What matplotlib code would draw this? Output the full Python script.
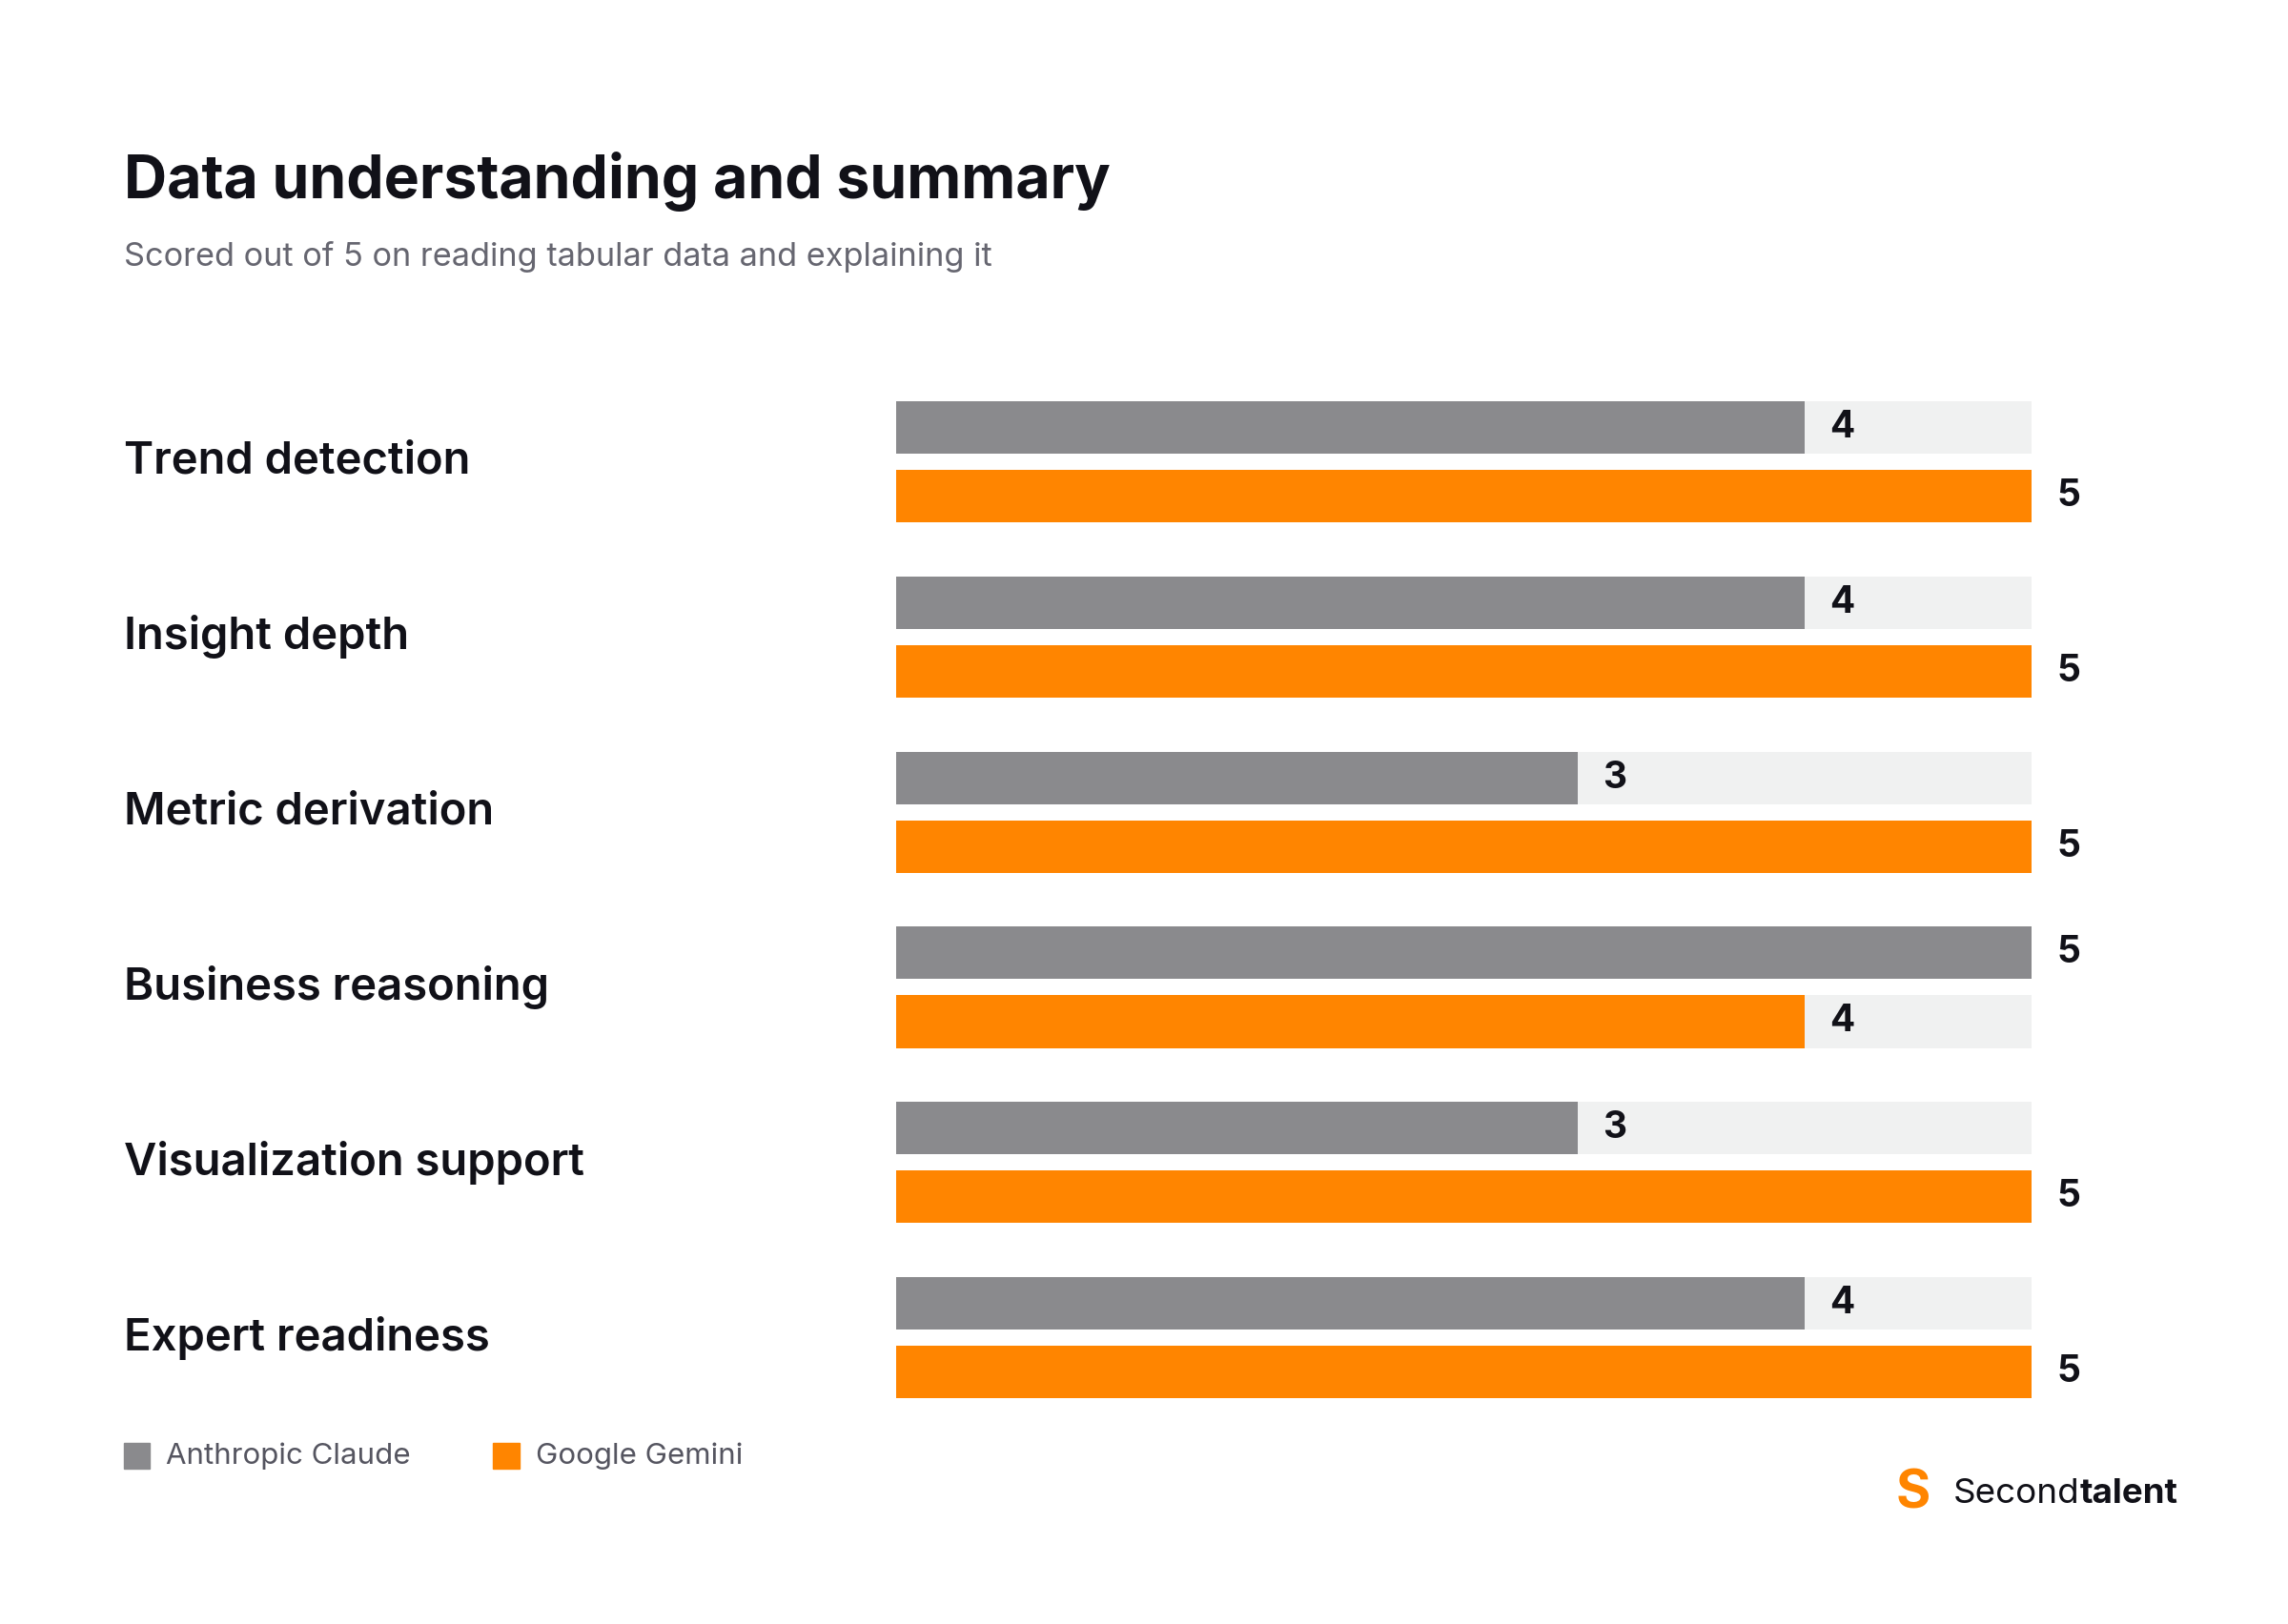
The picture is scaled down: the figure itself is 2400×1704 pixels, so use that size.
import matplotlib.pyplot as plt
import numpy as np
from matplotlib.patches import Rectangle

categories = ["Trend detection", "Insight depth", "Metric derivation",
              "Business reasoning", "Visualization support", "Expert readiness"]
claude = [4, 4, 3, 5, 3, 4]
gemini = [5, 5, 5, 4, 5, 5]
max_score = 5

GRAY = "#8a8a8d"
ORANGE = "#ff8500"
TRACK = "#f0f1f1"
DARK = "#111118"
LEFT = 0.054

plt.rcParams["font.family"] = ["Inter", "DejaVu Sans"]

fig = plt.figure(figsize=(24, 17.04), dpi=100)
ax_left, ax_w = 0.3915, 0.4965
ax = fig.add_axes([ax_left, 0.139, ax_w, 0.614])

y = np.arange(len(categories))
off = 0.196
h = 0.30
ax.barh(y - off, [max_score] * len(y), height=h, color=TRACK)
ax.barh(y + off, [max_score] * len(y), height=h, color=TRACK)
ax.barh(y - off, claude, height=h, color=GRAY)
ax.barh(y + off, gemini, height=h, color=ORANGE)
for yi, cat, c, g in zip(y, categories, claude, gemini):
    ax.text(c + 0.11, yi - off, str(c), va="center", ha="left", fontsize=28,
            fontweight="bold", color=DARK)
    ax.text(g + 0.11, yi + off, str(g), va="center", ha="left", fontsize=28,
            fontweight="bold", color=DARK)
    ax.text((LEFT - ax_left) / ax_w, yi, cat, transform=ax.get_yaxis_transform(),
            va="center", ha="left", fontsize=34, fontweight="semibold", color=DARK)
ax.set_xlim(0, max_score)
ax.set_ylim(5.346, -0.346)
ax.axis("off")

fig.text(LEFT, 0.888, "Data understanding and summary", fontsize=45,
         fontweight="bold", color=DARK, va="center")
fig.text(LEFT, 0.842, "Scored out of 5 on reading tabular data and explaining it",
         fontsize=24.7, color="#666670", va="center")

# legend
for x0, lab, col in [(LEFT, "Anthropic Claude", GRAY), (0.2155, "Google Gemini", ORANGE)]:
    fig.patches.append(Rectangle((x0, 0.0955), 0.0115, 0.0162, transform=fig.transFigure,
                                 color=col))
    fig.text(x0 + 0.0185, 0.1035, lab, fontsize=22.5, color="#555560", va="center")

# logo
renderer = fig.canvas.get_renderer()
t1 = fig.text(0.8535, 0.080, "Second", fontsize=26.5, color=DARK, va="center", ha="left")
bb = t1.get_window_extent(renderer).transformed(fig.transFigure.inverted())
fig.text(bb.x1, 0.080, "talent", fontsize=26.5, color=DARK, va="center", ha="left",
         fontweight="bold")
fig.text(0.836, 0.080, "S", fontsize=40, color=ORANGE, va="center", ha="center",
         fontweight="bold")

fig.savefig("out.png", dpi=100, facecolor="white")
